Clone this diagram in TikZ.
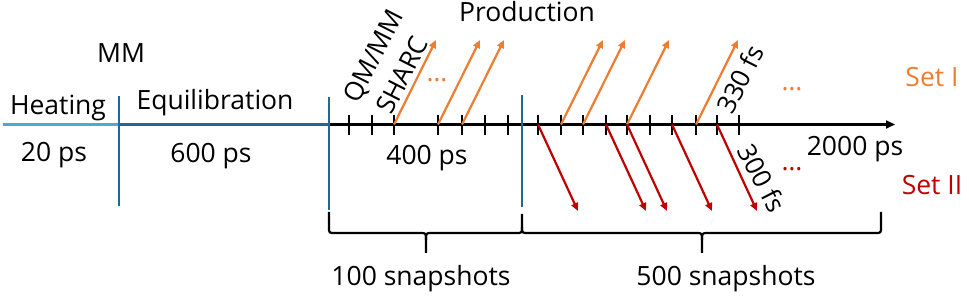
\documentclass[tikz,border=0pt]{standalone}
\usepackage{fontspec}
\setmainfont{Open Sans}
\usetikzlibrary{arrows.meta}
\definecolor{orng}{RGB}{237,125,49}
\definecolor{dred}{RGB}{192,0,0}
\definecolor{phase}{RGB}{31,105,150}
\definecolor{lblue}{RGB}{74,168,219}
\begin{document}
\begin{tikzpicture}[x=1pt,y=-1pt,
  lbl/.style={font=\fontsize{26.5}{30}\selectfont, inner sep=0pt, anchor=base},
  rlbl/.style={font=\fontsize{26}{30}\selectfont, inner sep=0pt, anchor=center},
  phaseline/.style={draw=phase, line width=2.4pt},
  axisline/.style={draw=black, line width=2.2pt, -{Triangle[length=9pt,width=8pt]}},
  tickline/.style={draw=black, line width=2.4pt},
  oarr/.style={draw=orng, line width=2.2pt, -{Triangle[length=8pt,width=7pt]}},
  rarr/.style={draw=dred, line width=2.2pt, -{Triangle[length=8pt,width=7pt]}},
  bracepath/.style={draw=black, line width=2.2pt, line join=round}]
\useasboundingbox (0,0) rectangle (969,296);

% left phase line
\coordinate (l0) at (3,124.5);
\coordinate (l1) at (119,124.5);
\coordinate (l2) at (329,124.5);
\coordinate (axend) at (895,124.5);
\draw[draw=lblue, line width=2.2pt] (l0) -- (l1);
\draw[phaseline, line width=2.2pt] (l1) -- (l2);
\draw[axisline] (l2) -- (axend);

% vertical phase separators
\coordinate (v1t) at (119,96); \coordinate (v1b) at (119,206);
\coordinate (v2t) at (329,97); \coordinate (v2b) at (329,210);
\coordinate (v3t) at (522,95); \coordinate (v3b) at (522,207);
\draw[phaseline] (v1t) -- (v1b);
\draw[phaseline] (v2t) -- (v2b);
\draw[phaseline] (v3t) -- (v3b);

% ticks
\foreach \x [count=\i] in {349,372,394,438,462,485,508,538,561,583,606,627,650,672,696,717,739} {
  \coordinate (tt\i) at (\x,115);
  \coordinate (tb\i) at (\x,135);
  \draw[tickline] (tt\i) -- (tb\i);
}

% orange arrows (Set I)
\foreach \x [count=\i] in {394,438,462,561,583,627,696} {
  \coordinate (os\i) at (\x,124.5);
  \coordinate (oe\i) at (\x+42,40);
  \draw[oarr] (os\i) -- (oe\i);
}
% red arrows (Set II)
\foreach \x [count=\i] in {538,606,627,672,717} {
  \coordinate (rs\i) at (\x,124.5);
  \coordinate (re\i) at (\x+40,211);
  \draw[rarr] (rs\i) -- (re\i);
}

% braces
\draw[bracepath] (329,212) -- (329,227) .. controls (329,233) .. (335,233) -- (420,233)
  .. controls (426,233) .. (426,240) -- (426,253);
\draw[bracepath] (426,240) .. controls (426,233) .. (432,233) -- (516,233)
  .. controls (522,233) .. (522,227) -- (522,214);
\draw[bracepath] (522,227) .. controls (522,233) .. (528,233) -- (696,233)
  .. controls (702,233) .. (702,240) -- (702,253);
\draw[bracepath] (702,240) .. controls (702,233) .. (708,233) -- (875,233)
  .. controls (881,233) .. (881,227) -- (881,212);

% labels
\node[lbl] (mm) at (121,63) {MM};
\node[lbl] (heat) at (58,115) {Heating};
\node[lbl] (equil) at (215,110) {Equilibration};
\node[lbl] (t20) at (54,162) {20 ps};
\node[lbl] (t600) at (211,163) {600 ps};
\node[lbl] (prod) at (527,22) {Production};
\node[lbl] (t400) at (427,165) {400 ps};
\node[lbl] (t2000) at (855,156) {2000 ps};
\node[lbl] (s100) at (421,286) {100 snapshots};
\node[lbl] (s500) at (726,286) {500 snapshots};
\node[lbl, text=orng] (set1) at (932,87) {Set I};
\node[lbl, text=dred] (set2) at (932,195) {Set II};

\node[rlbl, rotate=63] (qmmm) at (375,57) {QM/MM};
\node[rlbl, rotate=63] (sharc) at (402,75) {SHARC};
\node[rlbl, rotate=63] (f330) at (740,79) {330 fs};
\node[rlbl, rotate=-63] (f300) at (762,178) {300 fs};

\node[lbl, text=orng] (dots1) at (437,82) {…};
\node[lbl, text=orng] (dots2) at (792,91) {…};
\node[lbl, text=dred] (dots3) at (792,171) {…};
\end{tikzpicture}
\end{document}
